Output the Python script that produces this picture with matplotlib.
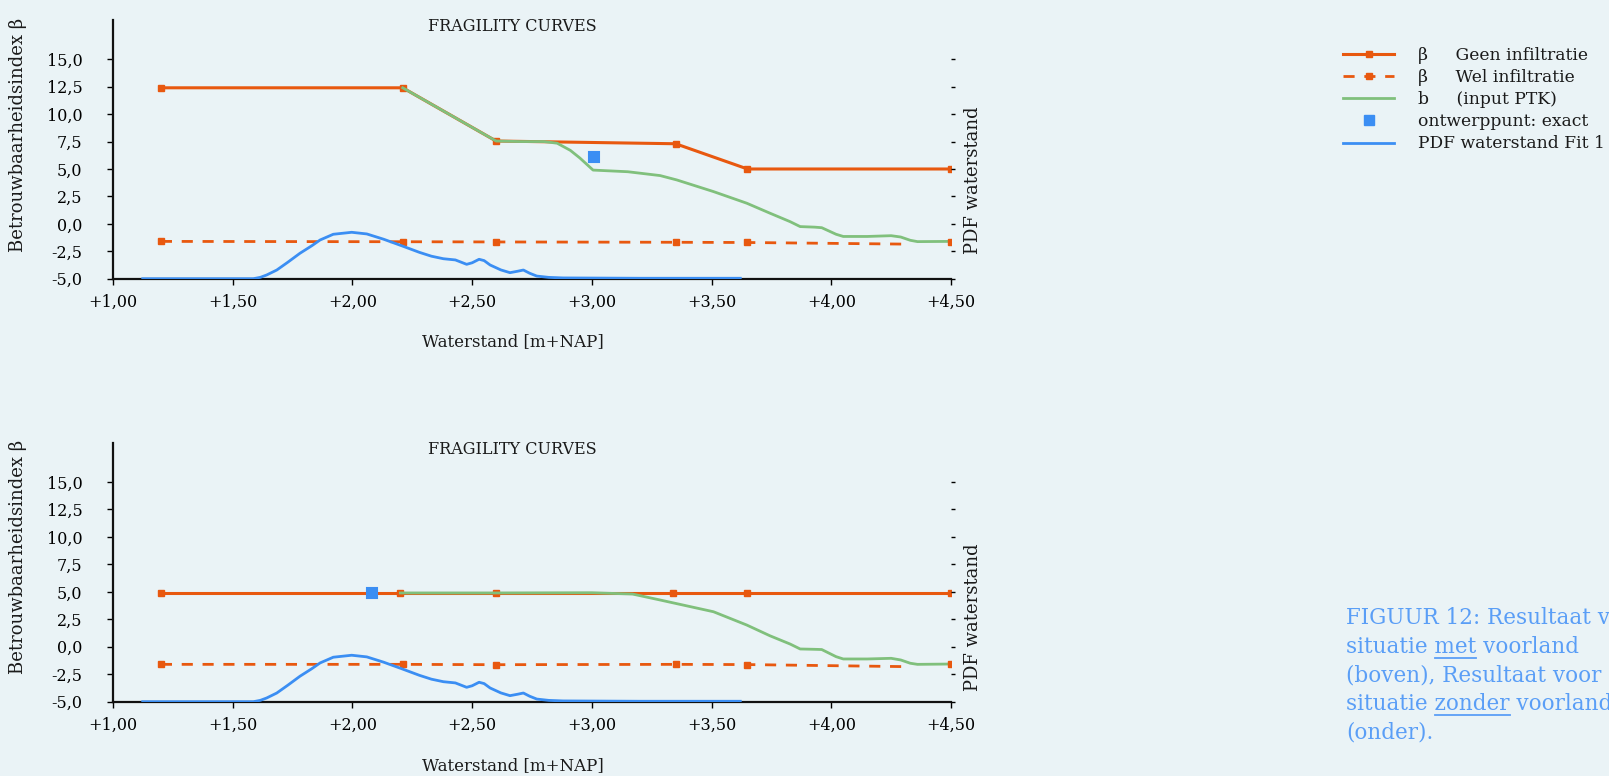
import matplotlib
matplotlib.use('Agg')
import matplotlib.pyplot as plt
from matplotlib.lines import Line2D
from matplotlib.ticker import FixedLocator, FuncFormatter

# ---- data ----
x_ticks = [1.0, 1.5, 2.0, 2.5, 3.0, 3.5, 4.0, 4.5]
y_ticks = [-5.0, -2.5, 0.0, 2.5, 5.0, 7.5, 10.0, 12.5, 15.0]
pdf_ticks = [0.0, 0.25, 0.5, 0.75, 1.0, 1.25, 1.5, 1.75, 2.0]

# boven: situatie met voorland
geen_x_top = [1.20, 2.21, 2.60, 3.35, 3.65, 4.50]
geen_y_top = [12.4, 12.4, 7.55, 7.3, 5.0, 5.0]
wel_x_top = [1.20, 2.21, 2.60, 3.35, 3.65, 4.32]
wel_y_top = [-1.6, -1.63, -1.65, -1.68, -1.7, -1.85]
wel_end_x_top = [4.50]
wel_end_y_top = [-1.62]
ptk_x_top = [2.21, 2.60, 2.70, 2.80, 2.855, 2.91, 2.95, 3.005, 3.15, 3.285, 3.355,
             3.508, 3.647, 3.744, 3.828, 3.87, 3.93, 3.96, 4.02, 4.05, 4.15, 4.25,
             4.29, 4.33, 4.36, 4.50]
ptk_y_top = [12.4, 7.55, 7.5, 7.5, 7.35, 6.7, 6.0, 4.9, 4.75, 4.40, 4.0,
             2.94, 1.88, 0.97, 0.20, -0.25, -0.30, -0.35, -0.95, -1.15, -1.15, -1.08,
             -1.2, -1.5, -1.62, -1.6]
ontwerp_x_top = [3.01]
ontwerp_y_top = [6.07]

# onder: situatie zonder voorland
geen_x_bot = [1.20, 2.20, 2.60, 3.34, 3.65, 4.50]
geen_y_bot = [4.9, 4.9, 4.9, 4.9, 4.9, 4.9]
wel_x_bot = [1.20, 2.21, 2.60, 3.35, 3.65, 4.32]
wel_y_bot = [-1.6, -1.6, -1.63, -1.6, -1.62, -1.81]
wel_end_x_bot = [4.50]
wel_end_y_bot = [-1.6]
ptk_x_bot = [2.20, 2.60, 3.00, 3.17, 3.285, 3.508, 3.647, 3.744, 3.828, 3.87, 3.93,
             3.96, 4.02, 4.05, 4.15, 4.25, 4.29, 4.33, 4.36, 4.50]
ptk_y_bot = [4.9, 4.9, 4.92, 4.8, 4.26, 3.19, 1.98, 1.0, 0.25, -0.2, -0.23,
             -0.25, -0.9, -1.11, -1.11, -1.05, -1.2, -1.5, -1.6, -1.57]
ontwerp_x_bot = [2.08]
ontwerp_y_bot = [4.88]

# PDF waterstand Fit 1 (zelfde in beide figuren)
pdf_x = [1.124, 1.586, 1.615, 1.642, 1.684, 1.73, 1.781, 1.83, 1.865, 1.92, 1.997,
         2.06, 2.13, 2.206, 2.28, 2.33, 2.38, 2.43, 2.477, 2.50, 2.529, 2.55, 2.575,
         2.62, 2.658, 2.69, 2.714, 2.74, 2.77, 2.82, 2.88, 3.2, 3.62]
pdf_y = [0.0, 0.0, 0.012, 0.034, 0.079, 0.15, 0.232, 0.30, 0.353, 0.405, 0.423,
         0.408, 0.36, 0.30, 0.24, 0.205, 0.182, 0.171, 0.131, 0.145, 0.177, 0.165, 0.125,
         0.08, 0.055, 0.068, 0.079, 0.05, 0.024, 0.012, 0.007, 0.004, 0.004]

legend_labels = ["β     Geen infiltratie", "β     Wel infiltratie", "b     (input PTK)",
                 "ontwerppunt: exact", "PDF waterstand Fit 1"]
cap_lines = ["FIGUUR 12: Resultaat voor", "situatie met voorland",
             "(boven), Resultaat voor", "situatie zonder voorland", "(onder)."]

ORANGE = '#e8580f'
GREEN = '#80c07c'
BLUE = '#3b8ef3'
BG = '#eaf3f6'
CAPTION = '#5a9ef6'

plt.rcParams['font.family'] = 'DejaVu Serif'
plt.rcParams['text.color'] = '#1a1a1a'

W, H = 1609, 776
fig = plt.figure(figsize=(W / 100, H / 100), dpi=100, facecolor=BG)


def fmt_y(v, pos):
    return f"{v:.1f}".replace('.', ',')


def fmt_x(v, pos):
    return "+" + f"{v:.2f}".replace('.', ',')


def make_panel(top_px, bottom_px, geen, wel, wel_end, ptk, ontwerp, ylab_frac, rlab_frac):
    ax = fig.add_axes([113 / W, 1 - bottom_px / H, 838 / W, (bottom_px - top_px) / H])
    ax.set_facecolor('none')
    ax.set_xlim(1.0, 4.5)
    ax.set_ylim(-5.0, 18.58)
    for s in ['top', 'right']:
        ax.spines[s].set_visible(False)
    for s in ['left', 'bottom']:
        ax.spines[s].set_linewidth(1.6)
        ax.spines[s].set_color('#111111')
    ax.xaxis.set_major_locator(FixedLocator(x_ticks))
    ax.yaxis.set_major_locator(FixedLocator(y_ticks))
    ax.xaxis.set_major_formatter(FuncFormatter(fmt_x))
    ax.yaxis.set_major_formatter(FuncFormatter(fmt_y))
    ax.tick_params(axis='y', length=4, width=1, pad=18, labelsize=11.5)
    ax.tick_params(axis='x', length=4, width=1, pad=7, labelsize=11.5)

    ax.plot(geen[0], geen[1], color=ORANGE, lw=2.2, marker='s', ms=4.5, zorder=2)
    ax.plot(ptk[0], ptk[1], color=GREEN, lw=2.0, zorder=3)
    ax.plot(wel[0], wel[1], color=ORANGE, lw=2.0, ls=(0, (4, 3.5)), marker='s', ms=4.5,
            markevery=[0, 1, 2, 3, 4], zorder=2)
    ax.plot(wel_end[0], wel_end[1], color=ORANGE, ls='none', marker='s', ms=4.5, zorder=4)

    # PDF op de secundaire as (zonder labels)
    ax2 = ax.twinx()
    ax2.set_ylim(0, 2.358)
    for s in ax2.spines.values():
        s.set_visible(False)
    ax2.yaxis.set_major_locator(FixedLocator(pdf_ticks))
    ax2.tick_params(axis='y', length=3, width=1, labelright=False)
    ax2.plot(pdf_x, pdf_y, color=BLUE, lw=2.0, zorder=2)
    ax.plot(ontwerp[0], ontwerp[1], color=BLUE, ls='none', marker='s', ms=7.5,
            mec=BLUE, mew=1.5, mfc=BLUE, zorder=5)

    ax.text(0.477, 0.975, "FRAGILITY CURVES", transform=ax.transAxes,
            ha='center', va='center', fontsize=11.5)
    ax.text(-0.113, ylab_frac, "Betrouwbaarheidsindex β", transform=ax.transAxes,
            rotation=90, ha='center', va='center', fontsize=13)
    ax.text(1.0266, rlab_frac, "PDF waterstand", transform=ax.transAxes,
            rotation=90, ha='center', va='center', fontsize=13)
    ax.text(0.477, -0.245, "Waterstand [m+NAP]", transform=ax.transAxes,
            ha='center', va='center', fontsize=12)
    return ax


ax_top = make_panel(20, 278.7, (geen_x_top, geen_y_top), (wel_x_top, wel_y_top),
                    (wel_end_x_top, wel_end_y_top), (ptk_x_top, ptk_y_top),
                    (ontwerp_x_top, ontwerp_y_top), 0.555, 0.381)
ax_bot = make_panel(442.7, 701.7, (geen_x_bot, geen_y_bot), (wel_x_bot, wel_y_bot),
                    (wel_end_x_bot, wel_end_y_bot), (ptk_x_bot, ptk_y_bot),
                    (ontwerp_x_bot, ontwerp_y_bot), 0.559, 0.325)

# legenda
handles = [
    Line2D([], [], color=ORANGE, lw=2.2, marker='s', ms=4.5),
    Line2D([], [], color=ORANGE, lw=2.0, ls=(0, (4, 3.5)), marker='s', ms=4.5),
    Line2D([], [], color=GREEN, lw=2.0),
    Line2D([], [], color=BLUE, ls='none', marker='s', ms=7),
    Line2D([], [], color=BLUE, lw=2.0),
]
fig.legend(handles, legend_labels, loc='upper left', bbox_to_anchor=(1343 / W, 1 - 47 / H),
           frameon=False, fontsize=12.3, handlelength=3.0, handletextpad=1.4,
           labelspacing=0.3, borderpad=0, borderaxespad=0)

# bijschrift met onderstreepte woorden
cap_under = [None, "situatie met", None, "situatie zonder", None]
cap_words = [None, "met", None, "zonder", None]
cap_x = 1346
cap_fs = 15.5
cap_base = [624, 653, 681.5, 710, 738.5]
fig.canvas.draw()
renderer = fig.canvas.get_renderer()
for line, pre, word, yb in zip(cap_lines, cap_under, cap_words, cap_base):
    fig.text(cap_x / W, 1 - yb / H, line, color=CAPTION, fontsize=cap_fs, va='baseline')
    if pre:
        t1 = fig.text(cap_x / W, 1 - yb / H, pre, fontsize=cap_fs, va='baseline')
        t2 = fig.text(0, 0, word, fontsize=cap_fs)
        right = t1.get_window_extent(renderer).x1
        wd = t2.get_window_extent(renderer).width
        t1.remove()
        t2.remove()
        uy = 1 - (yb + 5) / H
        fig.add_artist(Line2D([(right - wd) / W, right / W], [uy, uy], color=CAPTION, lw=1.3))

fig.savefig('out.png', dpi=100, facecolor=BG)
